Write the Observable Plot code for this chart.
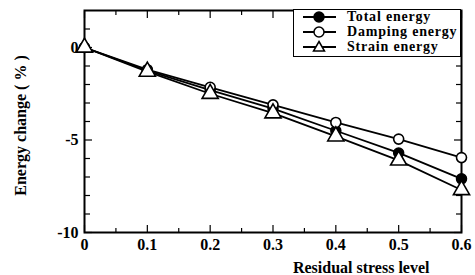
<!DOCTYPE html>
<html><head><meta charset="utf-8">
<script src="https://cdn.jsdelivr.net/npm/d3@7"></script>
<script src="https://cdn.jsdelivr.net/npm/@observablehq/plot@0.6"></script>
<style>
body{margin:0;background:#fff;}
#wrap{position:relative;width:475px;height:275px;font-family:"Liberation Serif","DejaVu Serif",serif;}
#legend{position:absolute;left:293px;top:9px;width:168px;height:48px;border:1px solid #000;background:#fff;box-sizing:border-box;}
.row{position:absolute;left:0;height:14px;display:flex;align-items:center;}
.row span{font-weight:bold;font-size:14px;letter-spacing:0.8px;margin-left:11px;line-height:14px;white-space:nowrap;}
</style></head>
<body><div id="wrap"><div id="legend"></div></div>
<script>
const stress = [0, 0.1, 0.2, 0.3, 0.4, 0.5, 0.6];
const totalEnergy = [0, -1.25, -2.3, -3.3, -4.5, -5.7, -7.1];
const dampingEnergy = [0, -1.2, -2.15, -3.1, -4.05, -4.95, -5.95];
const strainEnergy = [0, -1.3, -2.5, -3.55, -4.8, -6.1, -7.7];
const seriesNames = ["Total energy", "Damping energy", "Strain energy"];
const xTicks = [0, 0.1, 0.2, 0.3, 0.4, 0.5, 0.6];
const xMinor = [0.05, 0.15, 0.25, 0.35, 0.45, 0.55];
const yTicks = [0, -5, -10];
const yMinor = [1, -1, -2, -3, -4, -6, -7, -8, -9];

const mk = (vals) => stress.map((x, i) => ({x, y: vals[i]}));
const total = mk(totalEnergy), damping = mk(dampingEnergy), strain = mk(strainEnergy);
const font = "'Liberation Serif', 'DejaVu Serif', serif";

const chart = Plot.plot({
  width: 475, height: 275,
  marginLeft: 84, marginRight: 14, marginTop: 10, marginBottom: 43,
  style: {fontFamily: font, background: "white"},
  x: {domain: [0, 0.6]},
  y: {domain: [-10, 2]},
  marks: [
    Plot.axisX({ticks: xTicks, tickSize: 0, tickPadding: 6, tickFormat: d => d === 0 ? "0" : d3.format(".1f")(d), fontSize: 16, fontWeight: "bold", label: null}),
    Plot.axisX({anchor: "bottom", ticks: xTicks, tickSize: -7, text: null, label: null, strokeWidth: 1.2}),
    Plot.axisX({anchor: "bottom", ticks: xMinor, tickSize: -4, text: null, label: null, strokeWidth: 1.2}),
    Plot.axisX({anchor: "top", ticks: xTicks, tickSize: -7, text: null, label: null, strokeWidth: 1.2}),
    Plot.axisX({anchor: "top", ticks: xMinor, tickSize: -4, text: null, label: null, strokeWidth: 1.2}),
    Plot.axisY({ticks: yTicks, tickSize: 0, tickPadding: 6, tickFormat: d => String(d), fontSize: 16, fontWeight: "bold", label: null}),
    Plot.axisY({anchor: "left", ticks: yTicks, tickSize: -8, text: null, label: null, strokeWidth: 1.2}),
    Plot.axisY({anchor: "left", ticks: yMinor, tickSize: -6, text: null, label: null, strokeWidth: 1.2}),
    Plot.axisY({anchor: "right", ticks: yTicks, tickSize: -8, text: null, label: null, strokeWidth: 1.2}),
    Plot.axisY({anchor: "right", ticks: yMinor, tickSize: -6, text: null, label: null, strokeWidth: 1.2}),
    Plot.frame({stroke: "black", strokeWidth: 2}),
    Plot.text(["Energy change ( % )"], {frameAnchor: "left", textAnchor: "middle", lineAnchor: "middle", dx: -64, dy: 4, rotate: -90, fontSize: 16, fontWeight: "bold", fill: "black"}),
    Plot.text(["Residual stress level"], {frameAnchor: "bottom-right", textAnchor: "end", lineAnchor: "bottom", dx: -32, dy: 40, fontSize: 16, fontWeight: "bold", fill: "black"}),
    Plot.line(total, {x: "x", y: "y", stroke: "black", strokeWidth: 1.8}),
    Plot.line(damping, {x: "x", y: "y", stroke: "black", strokeWidth: 1.8}),
    Plot.line(strain, {x: "x", y: "y", stroke: "black", strokeWidth: 1.8}),
    Plot.dot(total, {x: "x", y: "y", r: 5, fill: "black", stroke: "black", strokeWidth: 1.5}),
    Plot.dot(damping, {x: "x", y: "y", r: 5, fill: "white", stroke: "black", strokeWidth: 1.6}),
    Plot.dot(strain, {x: "x", y: "y", r: 6, symbol: "triangle", fill: "white", stroke: "black", strokeWidth: 1.6})
  ]
});
const wrap = document.getElementById("wrap");
wrap.insertBefore(chart, wrap.firstChild);

const legend = document.getElementById("legend");
const symbols = [
  '<circle cx="16" cy="7" r="5" fill="black" stroke="black" stroke-width="1.5"/>',
  '<circle cx="16" cy="7" r="5" fill="white" stroke="black" stroke-width="1.5"/>',
  '<path d="M16,1.5 L21.5,11 L10.5,11 Z" fill="white" stroke="black" stroke-width="1.5"/>'
];
seriesNames.forEach((name, i) => {
  const row = document.createElement("div");
  row.className = "row";
  row.style.top = (0 + i * 15) + "px";
  row.style.left = "9px";
  row.innerHTML = `<svg width="33" height="14"><line x1="0" x2="33" y1="7" y2="7" stroke="black" stroke-width="1.8"/>${symbols[i]}</svg><span>${name}</span>`;
  legend.appendChild(row);
});
</script></body></html>
